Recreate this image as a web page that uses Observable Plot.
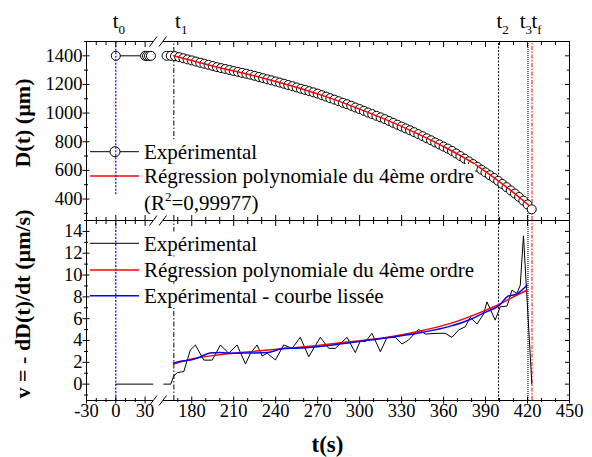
<!DOCTYPE html>
<html><head><meta charset="utf-8">
<script src="https://cdn.jsdelivr.net/npm/d3@7"></script>
<script src="https://cdn.jsdelivr.net/npm/@observablehq/plot@0.6"></script>
<style>
body{margin:0;background:#fff;}
#wrap{position:relative;width:592px;height:457px;overflow:hidden;}
#wrap svg{position:absolute;left:0;top:0;}
</style></head><body><div id="wrap"></div><script>
// ---------- data ----------
const tD = [0,30,32,34,36,
 162,165,168,171,174,177,180,183,186,189,192,195,198,201,204,207,210,213,216,219,222,225,228,231,234,237,240,243,246,249,
 252,255,258,261,264,267,270,273,276,279,282,285,288,291,294,297,300,303,306,309,312,315,318,321,324,327,330,333,336,339,
 342,345,348,351,354,357,360,363,366,369,372,375,378,381,384,387,390,393,396,399,402,405,408,411,414,417,420,423];
const dExp = [1400,1400,1400,1400,1400,
 1400,1400,1398,1391,1383,1375,1368,1360,1352,1345,1337,1329,1321,1314,1308,1301,1294,1288,1281,1275,1268,1260,1252,1244,1236,1229,1221,1213,1205,1196,
 1188,1179,1170,1162,1153,1145,1136,1125,1115,1104,1094,1083,1072,1062,1051,1039,1028,1016,1004,993,981,970,958,945,932,919,906,893,880,867,
 853,839,824,810,795,781,766,752,736,718,700,682,663,644,625,605,586,566,547,527,505,483,460,438,414,389,362,328];
const tRegD = [167,180,200,220,240,260,280,300,320,340,360,380,400,410,421];
const dReg  = [1401,1368,1316,1272,1221,1165,1101,1028,949,862,766,657,520,445,355];

const tV = [0,38,
 160,165,167,169.6,174.3,179,182.6,188.6,194.6,200.5,206.4,212.4,218.4,222,226.7,230.3,233.9,239.8,245.7,251.7,257.6,263.6,
 271.9,277.9,282.6,291,296.9,300.5,304.1,308.8,314.8,319.6,325.5,330.3,335,342.1,346.9,355.3,361.2,366,370.7,375.5,379,
 383.9,388.6,391,396.9,400.5,405.3,408.9,412.4,414.8,417.1,423.1];
const vExp = [0,0,
 0,0,0.7,1.06,1.15,3.13,3.59,2.2,2.2,3.59,2.83,3.59,1.85,2.83,3.59,2.58,2.83,2.22,3.59,3.28,4.29,2.52,
 4.29,3.28,3.28,4.29,2.89,3.98,3.89,4.66,2.98,4.29,4.29,3.68,4.05,5.02,4.59,4.66,4.66,4.29,4.96,5.26,6.12,
 5.51,6.42,7.54,5.87,7.09,7.15,8.61,8.31,9.07,13.6,0];
const tVReg = [167,180,198,222,250,270,293,320,341,365,389,400,410,419.6];
const vReg  = [1.85,2.3,2.67,2.98,3.3,3.55,3.89,4.3,4.81,5.57,6.72,7.33,8.0,8.61];
const tVSm = [167,172,179,186,193,200,210,220,234,246,255,270,293,317,341,365,379,389,400,406,412,419.6];
const vSm  = [1.95,2.1,2.2,2.5,2.85,2.9,2.83,2.85,2.89,3.28,3.3,3.43,3.8,4.2,4.66,5.32,5.93,6.54,7.24,8.06,8.25,9.07];

const tEvents = [0,167.2,399.3,420.3,423.2];
const eventSubs = ["0","1","2","3","f"];

const xMajor = [-30,0,30,180,210,240,270,300,330,360,390,420,450];
const xMinor = [-20,-10,10,20,170,190,200,220,230,250,260,280,290,310,320,340,350,370,380,400,410,430,440];
const yTopMajor = [400,600,800,1000,1200,1400];
const yTopMinor = [300,500,700,900,1100,1300,1500];
const yBotMajor = [0,2,4,6,8,10,12,14];
const yBotMinor = [-1,1,3,5,7,9,11,13,15];

const legendTop = ["Expérimental","Régression polynomiale du 4ème ordre"];
const r2Value = "=0,99977)";
const legendBot = ["Expérimental","Régression polynomiale du 4ème ordre","Expérimental - courbe lissée"];
const xTitle = "t(s)";
const yTopTitle = "D(t) (µm)";
const yBotTitle = "v = - dD(t)/dt (µm/s)";

// ---------- layout ----------
const font = "Liberation Serif, Times New Roman, serif";
const W = 592, H = 457;
const xLeftEnd = 38.6, xRightStart = 159.8;
const xScale = {type:"linear", domain:[-30,xLeftEnd,xRightStart,450], range:[86,153,163,569]};
const blank = () => "";
const plain = d => String(d);

const expD = tD.map((t,i)=>({t, d:dExp[i], seg: t<100?0:1}));
const regD = tRegD.map((t,i)=>({t, d:dReg[i]}));
const expV = tV.map((t,i)=>({t, v:vExp[i], seg: t<100?0:1}));
const regV = tVReg.map((t,i)=>({t, v:vReg[i]}));
const smV = tVSm.map((t,i)=>({t, v:vSm[i]}));

const evStyle = [
  {stroke:"#0000ff", dash:"2,1.5", w:1.2},
  {stroke:"#000000", dash:"5,2,1.5,2", w:1},
  {stroke:"#000000", dash:"2,1.5", w:1},
  {stroke:"#555555", dash:"1,1", w:1.6},
  {stroke:"#ff0000", dash:"4,1.5,1.5,1.5", w:1}
];

function frame(lo, hi) {
  return [
    Plot.ruleY([lo,hi], {x1:-30, x2:xLeftEnd, stroke:"black"}),
    Plot.ruleY([lo,hi], {x1:xRightStart, x2:450, stroke:"black"}),
    Plot.ruleX([-30,450], {y1:lo, y2:hi, stroke:"black"})
  ];
}
function events(lo, hi, blueLo) {
  return tEvents.map((t,i)=>Plot.ruleX([t], {y1: i===0 && blueLo!=null ? blueLo : lo, y2:hi,
    stroke:evStyle[i].stroke, strokeDasharray:evStyle[i].dash, strokeWidth:evStyle[i].w}));
}
function axes(yMajor, yMinor, showX) {
  const m = [
    Plot.axisY({anchor:"left", ticks:yMajor, tickSize:7, dx:3.5, tickFormat:blank, label:null}),
    Plot.axisY({anchor:"left", ticks:yMinor, tickSize:4, dx:2, tickFormat:blank, label:null}),
    Plot.axisY({anchor:"left", ticks:yMajor, tickSize:0, tickPadding:4, tickFormat:plain, label:null}),
    Plot.axisY({anchor:"right", ticks:yMajor, tickSize:5, dx:-5, tickFormat:blank, label:null}),
    Plot.axisY({anchor:"right", ticks:yMinor, tickSize:3, dx:-3, tickFormat:blank, label:null}),
    Plot.axisX({anchor:"top", ticks:xMajor, tickSize:5, dy:5, tickFormat:blank, label:null}),
    Plot.axisX({anchor:"top", ticks:xMinor, tickSize:3, dy:3, tickFormat:blank, label:null})
  ];
  if (showX) {
    m.push(Plot.axisX({anchor:"bottom", ticks:xMajor, tickSize:7, dy:-3.5, tickFormat:blank, label:null}));
    m.push(Plot.axisX({anchor:"bottom", ticks:xMinor, tickSize:4, dy:-2, tickFormat:blank, label:null}));
    m.push(Plot.axisX({anchor:"bottom", ticks:xMajor, tickSize:0, tickPadding:3, tickFormat:plain, label:null}));
  } else {
    m.push(Plot.axisX({anchor:"bottom", ticks:xMajor, tickSize:5, dy:-5, tickFormat:blank, label:null}));
    m.push(Plot.axisX({anchor:"bottom", ticks:xMinor, tickSize:3, dy:-3, tickFormat:blank, label:null}));
  }
  return m;
}
const style = {background:"transparent", fontFamily:font, fontSize:"18.5px", color:"black", overflow:"visible"};

const topPlot = Plot.plot({
  width:W, height:H, marginTop:41, marginBottom:237, marginLeft:86, marginRight:23,
  x:xScale, y:{domain:[250,1500]}, style,
  marks:[
    ...events(250,1500,430),
    Plot.line(expD, {x:"t", y:"d", z:"seg", stroke:"black", strokeWidth:1}),
    Plot.dot(expD, {x:"t", y:"d", r:4.5, fill:"white", stroke:"black", strokeWidth:1}),
    Plot.line(regD, {x:"t", y:"d", stroke:"#ff0000", strokeWidth:1.5, curve:"monotone-x"}),
    ...frame(250,1500),
    ...axes(yTopMajor, yTopMinor, false)
  ]
});
const botPlot = Plot.plot({
  width:W, height:H, marginTop:220, marginBottom:57, marginLeft:86, marginRight:23,
  x:xScale, y:{domain:[-1.5,15]}, style,
  marks:[
    ...events(-1.5,15,null),
    Plot.line(expV, {x:"t", y:"v", z:"seg", stroke:"black", strokeWidth:1}),
    Plot.line(regV, {x:"t", y:"v", stroke:"#ff0000", strokeWidth:1.5, curve:"monotone-x"}),
    Plot.line(smV, {x:"t", y:"v", stroke:"#0000ff", strokeWidth:1.5, curve:"monotone-x"}),
    ...frame(-1.5,15),
    ...axes(yBotMajor, yBotMinor, true)
  ]
});
const wrap = document.getElementById("wrap");
wrap.appendChild(topPlot);
wrap.appendChild(botPlot);

const sx = topPlot.scale("x");

function grp(svg, size) {
  return d3.select(svg).append("g").style("font-family",font).attr("font-size",size)
    .attr("fill","black").attr("text-anchor","start");
}
function textWithBg(g, x, y, build) {
  const bg = g.append("rect").attr("fill","white");
  const t = g.append("text").attr("x",x).attr("y",y);
  build(t);
  const b = t.node().getBBox();
  bg.attr("x",b.x-1).attr("y",b.y).attr("width",b.width+2).attr("height",b.height);
  return t;
}

// top legend
{
  const g = grp(topPlot, 21);
  g.append("line").attr("x1",90).attr("x2",139).attr("y1",151.7).attr("y2",151.7).attr("stroke","black");
  g.append("circle").attr("cx",115).attr("cy",151.7).attr("r",5).attr("fill","white").attr("stroke","black");
  g.append("line").attr("x1",90).attr("x2",139).attr("y1",176).attr("y2",176).attr("stroke","#ff0000").attr("stroke-width",1.5);
  textWithBg(g,144,158.5,t=>t.text(legendTop[0]));
  textWithBg(g,144,183,t=>t.text(legendTop[1]));
  textWithBg(g,144,210,t=>{
    t.append("tspan").text("(R");
    t.append("tspan").attr("font-size",13).attr("dy",-9).text("2");
    t.append("tspan").attr("dy",9).text(r2Value);
  });
  const blue = topPlot.querySelector('g[stroke="#0000ff"]');
  if (blue) topPlot.appendChild(blue);
}
// bottom legend
{
  const g = grp(botPlot, 21);
  const ly = [243.3,270,295.7], cols = ["black","#ff0000","#0000ff"], ws=[1,1.5,1.5];
  legendBot.forEach((s,i)=>{
    g.append("line").attr("x1",90).attr("x2",139).attr("y1",ly[i]).attr("y2",ly[i]).attr("stroke",cols[i]).attr("stroke-width",ws[i]);
    textWithBg(g,144,ly[i]+7.2,t=>t.text(s));
  });
}
// break marks
function slashes(svg, ys) {
  const a = sx.apply(xLeftEnd), b = sx.apply(xRightStart);
  const g = d3.select(svg).append("g").attr("stroke","black").attr("stroke-width",1);
  ys.forEach(y=>{
    g.append("line").attr("x1",a-3.5).attr("y1",y+5).attr("x2",a+4).attr("y2",y-5);
    g.append("line").attr("x1",b-4).attr("y1",y+5).attr("x2",b+3.5).attr("y2",y-5);
  });
}
slashes(topPlot,[41.5,220.5]);
slashes(botPlot,[400.5]);

// event labels
{
  const g = grp(topPlot, 21);
  const off = [-2.6,1.7,-1.6,-7.7,0];
  tEvents.forEach((t,i)=>{
    const tx = g.append("text").attr("x",sx.apply(t)+off[i]).attr("y",28);
    tx.append("tspan").text("t");
    tx.append("tspan").attr("font-size",13).attr("dy",6).text(eventSubs[i]);
  });
}
// titles
{
  const g = grp(botPlot, 22).attr("font-weight","bold");
  g.append("text").attr("x",327.5).attr("y",452).attr("text-anchor","middle").attr("font-size",23).text(xTitle);
  g.append("text").attr("transform","translate(29.5,123) rotate(-90)").attr("text-anchor","middle").text(yTopTitle);
  g.append("text").attr("transform","translate(29.5,304) rotate(-90)").attr("text-anchor","middle").text(yBotTitle);
}
</script></body></html>
